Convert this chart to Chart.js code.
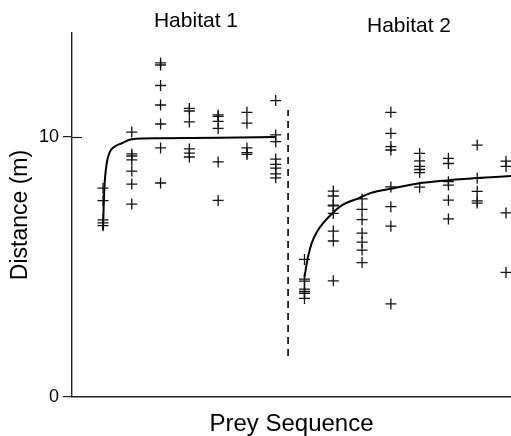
<!DOCTYPE html>
<html>
<head>
<meta charset="utf-8">
<script src="https://cdn.jsdelivr.net/npm/chart.js@4.4.1/dist/chart.umd.min.js"></script>
<style>
  html, body { margin: 0; padding: 0; background: #fff; overflow: hidden; }
  #wrap { width: 511px; height: 436px; }
  canvas { display: block; }
</style>
</head>
<body>
<div id="wrap"><canvas id="chart" width="511" height="436"></canvas></div>
<script>
// prey sequence positions (columns)
const habitat1Seq = [1, 2, 3, 4, 5, 6, 7];
const habitat2Seq = [8, 9, 10, 11, 12, 13, 14, 15];

// distances (m) per column
const habitat1Values = [
  [8.03, 7.55, 6.81, 6.70, 6.59],
  [10.19, 9.35, 9.27, 9.12, 8.69, 8.19, 7.42],
  [12.85, 12.77, 11.98, 11.23, 10.50, 9.58, 8.23],
  [11.10, 11.00, 10.58, 9.54, 9.38, 9.23],
  [10.85, 10.79, 10.60, 10.33, 9.04, 7.56],
  [10.95, 10.53, 9.58, 9.40, 9.33],
  [11.40, 10.08, 9.82, 9.15, 8.95, 8.80, 8.58, 8.43]
];
const habitat2Values = [
  [5.29, 4.53, 4.46, 4.15, 4.06, 3.99, 3.79],
  [7.92, 7.73, 7.38, 7.35, 7.06, 6.38, 6.00, 4.47],
  [7.62, 7.22, 6.82, 6.30, 5.96, 5.65, 5.17],
  [10.95, 10.14, 9.63, 9.50, 8.08, 7.32, 6.57, 3.58],
  [9.37, 9.08, 8.87, 8.75, 8.63, 8.07],
  [9.18, 8.98, 8.28, 8.15, 7.57, 6.85],
  [9.69, 8.41, 7.91, 7.54, 7.46],
  [9.07, 8.87, 7.08, 4.79]
];

// fitted curves
const curve1X = [1.0, 1.02, 1.05, 1.13, 1.24, 1.36, 1.65, 2.0, 2.98, 5.06, 7.0];
const curve1Y = [6.42, 7.19, 8.08, 8.99, 9.43, 9.60, 9.76, 9.91, 9.95, 9.97, 10.0];
const curve2X = [8.0, 8.12, 8.25, 8.45, 8.68, 8.98, 9.31, 9.89, 10.31, 10.94, 11.94, 12.95, 13.99, 15.17];
const curve2Y = [4.62, 5.38, 5.92, 6.38, 6.73, 7.08, 7.38, 7.65, 7.85, 8.00, 8.21, 8.33, 8.42, 8.50];

// habitat boundary
const dividerX = [7.43, 7.43];
const dividerY = [1.58, 11.04];

const yTickValues = [0, 10];
const habitatLabels = ['Habitat 1', 'Habitat 2'];

function toPoints(seq, cols) {
  const pts = [];
  seq.forEach((x, i) => {
    cols[i].forEach(y => pts.push({ x: x, y: y }));
  });
  return pts;
}

function zip(xs, ys) {
  return xs.map((x, i) => ({ x: x, y: ys[i] }));
}

// Habitat labels above the plot + inner part of the y ticks
const habitatLabelPlugin = {
  id: 'habitatLabels',
  afterDraw(chart) {
    const ctx = chart.ctx;
    const xScale = chart.scales.x;
    const yScale = chart.scales.y;
    const spots = [
      { x: xScale.getPixelForValue(4.23), y: 27 },
      { x: xScale.getPixelForValue(11.63), y: 32 }
    ];
    ctx.save();
    ctx.fillStyle = '#000';
    ctx.font = '21px "Liberation Sans", Arial, sans-serif';
    ctx.textAlign = 'center';
    ctx.textBaseline = 'alphabetic';
    habitatLabels.forEach((t, i) => ctx.fillText(t, spots[i].x, spots[i].y));

    ctx.strokeStyle = '#222';
    ctx.lineWidth = 1.2;
    yTickValues.filter(v => v > 0).forEach(v => {
      const py = Math.round(yScale.getPixelForValue(v)) + 0.5;
      ctx.beginPath();
      ctx.moveTo(chart.chartArea.left, py);
      ctx.lineTo(chart.chartArea.left + 10, py);
      ctx.stroke();
    });
    ctx.restore();
  }
};

const crossStyle = {
  showLine: false,
  pointStyle: 'cross',
  pointRadius: 5.5,
  pointBorderWidth: 1.3,
  pointBorderColor: '#111',
  pointBackgroundColor: '#111'
};

const curveStyle = {
  showLine: true,
  pointRadius: 0,
  borderColor: '#000',
  borderWidth: 2,
  tension: 0.4,
  cubicInterpolationMode: 'monotone'
};

const ctx = document.getElementById('chart').getContext('2d');
new Chart(ctx, {
  type: 'scatter',
  data: {
    datasets: [
      Object.assign({ label: 'Habitat 1', data: toPoints(habitat1Seq, habitat1Values) }, crossStyle),
      Object.assign({ label: 'Habitat 2', data: toPoints(habitat2Seq, habitat2Values) }, crossStyle),
      Object.assign({ label: 'Fit 1', data: zip(curve1X, curve1Y) }, curveStyle),
      Object.assign({ label: 'Fit 2', data: zip(curve2X, curve2Y) }, curveStyle),
      {
        label: 'Boundary',
        data: zip(dividerX, dividerY),
        showLine: true,
        pointRadius: 0,
        borderColor: '#000',
        borderWidth: 1.6,
        borderDash: [7, 5]
      }
    ]
  },
  options: {
    responsive: false,
    animation: false,
    layout: { autoPadding: false, padding: { top: 33, right: 0, bottom: 0, left: 0 } },
    plugins: {
      legend: { display: false },
      tooltip: { enabled: false }
    },
    scales: {
      x: {
        type: 'linear',
        min: -0.077,
        max: 15.174,
        grid: { display: false },
        border: { display: true, color: '#222', width: 1.4 },
        ticks: { display: false },
        title: {
          display: true,
          text: 'Prey Sequence',
          color: '#000',
          font: { size: 24, family: '"Liberation Sans", Arial, sans-serif', lineHeight: 1.0 },
          padding: { top: 0, bottom: 0 }
        },
        afterFit(scale) { scale.height = 39; }
      },
      y: {
        min: 0,
        max: 14,
        afterBuildTicks(scale) {
          scale.ticks = yTickValues.map(v => ({ value: v }));
        },
        grid: {
          display: true,
          drawOnChartArea: false,
          drawTicks: true,
          tickLength: 9,
          color: '#222',
          lineWidth: 1.2
        },
        border: { display: true, color: '#222', width: 1.4 },
        ticks: {
          color: '#000',
          padding: 4,
          font: { size: 18, family: '"Liberation Sans", Arial, sans-serif' }
        },
        title: {
          display: true,
          text: 'Distance (m)',
          color: '#000',
          font: { size: 23, family: '"Liberation Sans", Arial, sans-serif' },
          padding: { top: 7, bottom: 0 }
        },
        afterFit(scale) { scale.width = 72; }
      }
    }
  },
  plugins: [habitatLabelPlugin]
});
</script>
</body>
</html>
